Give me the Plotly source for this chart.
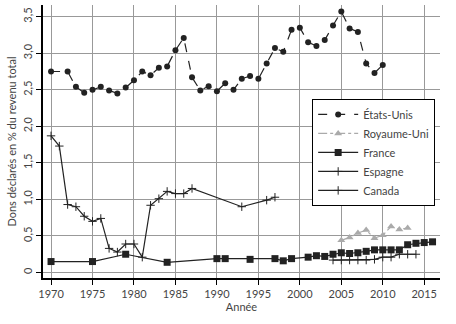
import plotly.graph_objects as go

us_years = list(range(1970, 2011))
us_years.remove(1971)
us_vals = [2.75, 2.75, 2.54, 2.46, 2.50, 2.54, 2.49, 2.45, 2.53, 2.63, 2.75, 2.70, 2.80, 2.82,
           3.04, 3.21, 2.67, 2.49, 2.55, 2.48, 2.59, 2.50, 2.65, 2.69, 2.65, 2.86, 3.07, 3.02,
           3.32, 3.35, 3.15, 3.10, 3.18, 3.38, 3.57, 3.34, 3.29, 2.86, 2.73, 2.84]

uk_years = [2005, 2006, 2007, 2008, 2009, 2010, 2011, 2012, 2013]
uk_vals = [0.44, 0.48, 0.54, 0.58, 0.47, 0.51, 0.63, 0.59, 0.61]

fr_years = [1970, 1975, 1979, 1984, 1990, 1991, 1994, 1997, 1998, 1999, 2001, 2002, 2003,
            2004, 2005, 2006, 2007, 2008, 2009, 2010, 2011, 2012, 2013, 2014, 2015, 2016]
fr_vals = [0.15, 0.15, 0.25, 0.14, 0.19, 0.19, 0.18, 0.19, 0.16, 0.19, 0.21, 0.23, 0.22,
           0.25, 0.27, 0.26, 0.27, 0.29, 0.31, 0.31, 0.31, 0.31, 0.38, 0.40, 0.41, 0.42]

es_years = [2004, 2005, 2006, 2007, 2008, 2009, 2010, 2011, 2012, 2013, 2014]
es_vals = [0.17, 0.17, 0.17, 0.17, 0.17, 0.18, 0.21, 0.21, 0.25, 0.25, 0.25]

ca_years = [1970, 1971, 1972, 1973, 1974, 1975, 1976, 1977, 1978, 1979, 1980, 1981, 1982,
            1983, 1984, 1985, 1986, 1987, 1993, 1996, 1997]
ca_vals = [1.87, 1.73, 0.93, 0.90, 0.77, 0.70, 0.74, 0.33, 0.28, 0.39, 0.39, 0.21, 0.92,
           1.01, 1.11, 1.08, 1.08, 1.15, 0.90, 0.99, 1.03]

ytick_vals = [0, 0.5, 1.0, 1.5, 2.0, 2.5, 3.0, 3.5]
ytick_text = ["0", "0,5", "1,0", "1,5", "2,0", "2,5", "3,0", "3,5"]
xtick_vals = [1970, 1975, 1980, 1985, 1990, 1995, 2000, 2005, 2010, 2015]

FONT = "Lato, Open Sans, sans-serif"
fig = go.Figure()
fig.add_trace(go.Scatter(x=us_years, y=us_vals, name="États-Unis", mode="lines+markers",
                         line=dict(color="#222", width=1.2, dash="dash"),
                         marker=dict(symbol="circle", size=6, color="#222")))
fig.add_trace(go.Scatter(x=uk_years, y=uk_vals, name="Royaume-Uni", mode="lines+markers",
                         line=dict(color="#aaa", width=1.2, dash="dashdot"),
                         marker=dict(symbol="triangle-up", size=7, color="#aaa")))
fig.add_trace(go.Scatter(x=fr_years, y=fr_vals, name="France", mode="lines+markers",
                         line=dict(color="#222", width=1.2),
                         marker=dict(symbol="square", size=7, color="#222")))
fig.add_trace(go.Scatter(x=es_years, y=es_vals, name="Espagne", mode="lines+markers",
                         line=dict(color="#222", width=1.2),
                         marker=dict(symbol="cross-thin", size=6, line=dict(color="#222", width=1))))
fig.add_trace(go.Scatter(x=ca_years, y=ca_vals, name="Canada", mode="lines+markers",
                         line=dict(color="#222", width=1.2),
                         marker=dict(symbol="cross-thin", size=6, line=dict(color="#222", width=1))))

fig.update_layout(
    width=456, height=324,
    margin=dict(l=43, r=16, t=5, b=46),
    paper_bgcolor="white", plot_bgcolor="white",
    font=dict(family=FONT, size=11, color="#444"),
    showlegend=True,
    legend=dict(x=0.678, y=0.656, xanchor="left", yanchor="top",
                bgcolor="white", bordercolor="black", borderwidth=1,
                font=dict(size=11, color="#444"), tracegroupgap=0,
                itemwidth=40),
    xaxis=dict(range=[1969.03, 2016.9], tickvals=xtick_vals,
               showgrid=True, gridcolor="#999", gridwidth=1,
               showline=True, linecolor="black", linewidth=1.5,
               ticks="outside", ticklen=5, tickcolor="black",
               zeroline=False,
               title=dict(text="Année", font=dict(size=11), standoff=4)),
    yaxis=dict(range=[-0.075, 3.66], tickvals=ytick_vals, ticktext=ytick_text,
               tickangle=-90,
               showgrid=True, gridcolor="#999", gridwidth=1,
               showline=True, linecolor="black", linewidth=1.5,
               ticks="outside", ticklen=5, tickcolor="black",
               zeroline=False,
               title=dict(text="Dons déclarés en % du revenu total", font=dict(size=11), standoff=2)),
)
fig.write_html("out.html")
